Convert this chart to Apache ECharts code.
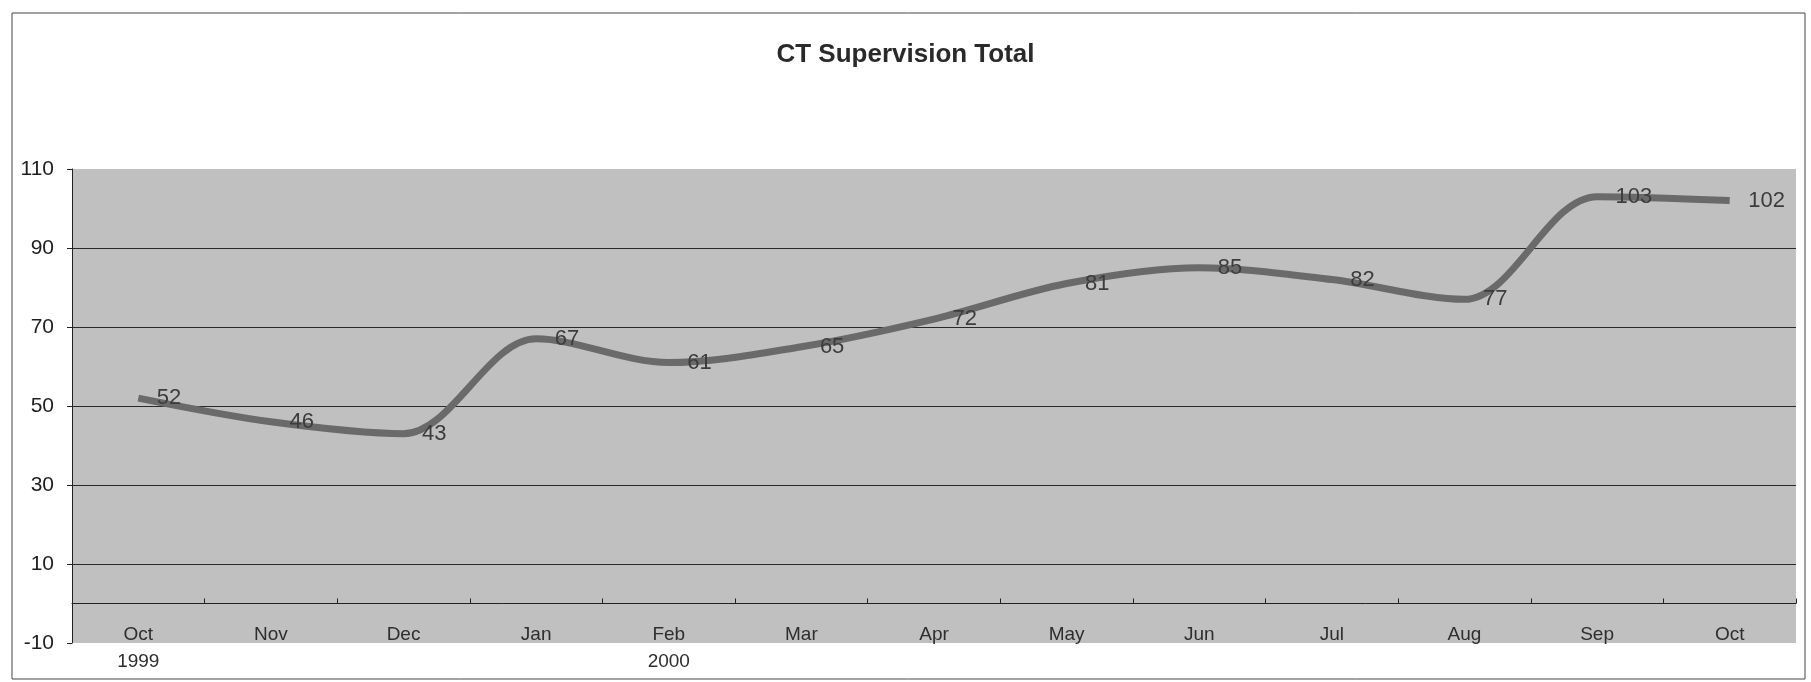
<!DOCTYPE html>
<html>
<head>
<meta charset="utf-8">
<title>CT Supervision Total</title>
<script src="https://cdn.jsdelivr.net/npm/echarts@6/dist/echarts.min.js"></script>
<style>
  html, body { margin: 0; padding: 0; background: #fff; }
  #chart { width: 1811px; height: 682px; }
</style>
</head>
<body>
<div id="chart"></div>
<script>
const months = ['Oct', 'Nov', 'Dec', 'Jan', 'Feb', 'Mar', 'Apr', 'May', 'Jun', 'Jul', 'Aug', 'Sep', 'Oct']
const years = ['1999', '', '', '', '2000', '', '', '', '', '', '', '', '']
const totals = [52, 46, 43, 67, 61, 65, 72, 81, 85, 82, 77, 103, 102]
const yTicks = [-10, 10, 30, 50, 70, 90, 110]

const font = '"Liberation Sans", Arial, sans-serif'
const gridColor = '#2a2a2a'
const chart = echarts.init(document.getElementById('chart'), null, { renderer: 'canvas' })

// no split line on the top and bottom edge of the plot, only the inner ones
const splitColors = yTicks.map((t, i) => (i === 0 || i === yTicks.length - 1) ? 'rgba(0,0,0,0)' : gridColor)

chart.setOption({
  animation: false,
  backgroundColor: '#fff',
  title: {
    text: 'CT Supervision Total',
    left: 'center',
    top: 37,
    textStyle: { fontFamily: font, fontSize: 26, fontWeight: 'bold', color: '#2a2a2a' },
  },
  graphic: [{
    type: 'rect',
    shape: { x: 12, y: 13, width: 1793, height: 666 },
    style: { fill: 'none', stroke: '#444', lineWidth: 1 },
    silent: true,
  }],
  grid: {
    left: 72, right: 15, top: 169, bottom: 39,
    show: true, backgroundColor: '#c0c0c0', borderWidth: 0,
  },
  xAxis: [
    {
      type: 'category',
      data: months,
      position: 'bottom',
      axisLine: { show: false, onZero: false },
      axisTick: { show: false },
      splitLine: { show: false },
      axisLabel: {
        margin: -22,
        lineHeight: 27,
        fontFamily: font,
        fontSize: 19,
        color: '#2e2e2e',
        formatter: (v, i) => years[i] ? v + '\n' + years[i] : v,
      },
    },
    {
      // category axis line sits on zero, ticks point up
      type: 'category',
      data: months,
      position: 'bottom',
      axisLine: { show: true, onZero: true, lineStyle: { color: '#222', width: 1 } },
      axisTick: { show: true, inside: true, length: 5, lineStyle: { color: '#222' } },
      axisLabel: { show: false },
      splitLine: { show: false },
    },
  ],
  yAxis: {
    type: 'value',
    min: yTicks[0],
    max: yTicks[yTicks.length - 1],
    interval: 20,
    axisLine: { show: true, lineStyle: { color: '#222', width: 1 } },
    axisTick: { show: true, length: 5, lineStyle: { color: '#222' } },
    axisLabel: { margin: 18, fontFamily: font, fontSize: 21, color: '#1e1e1e' },
    splitLine: { show: true, lineStyle: { color: splitColors, width: 1 } },
  },
  series: [{
    name: 'CT Supervision Total',
    type: 'line',
    xAxisIndex: 0,
    data: totals,
    smooth: 0.33,
    symbol: 'circle',
    symbolSize: 1,
    showSymbol: true,
    itemStyle: { color: 'rgba(0,0,0,0)' },
    lineStyle: { color: '#6a6a6a', width: 7 },
    label: {
      show: true,
      position: 'right',
      distance: 18,
      fontFamily: font,
      fontSize: 22,
      color: '#3c3c3c',
    },
    z: 3,
  }],
})
</script>
</body>
</html>
